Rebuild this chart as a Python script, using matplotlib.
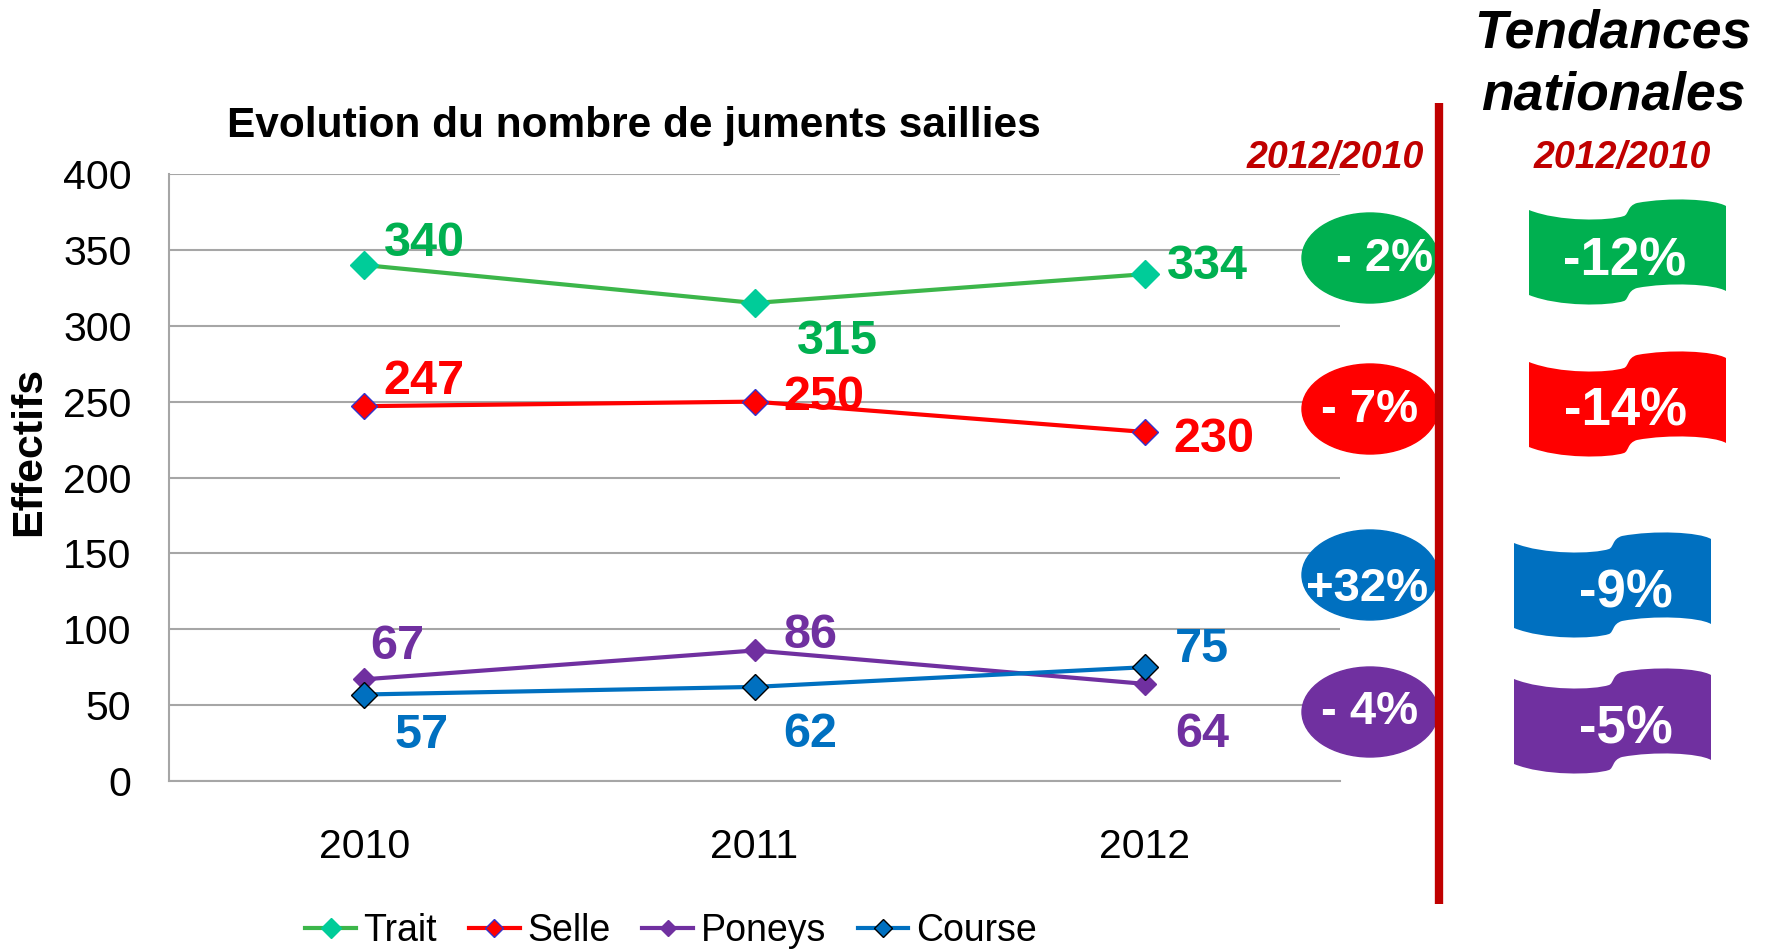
import matplotlib
matplotlib.use("Agg")
import matplotlib.pyplot as plt
from matplotlib.patches import Ellipse, PathPatch
from matplotlib.path import Path
import numpy as np

plt.rcParams['font.family'] = ['Liberation Sans', 'DejaVu Sans']

# ---------------- data ----------------
years = ['2010', '2011', '2012']
series_names = ['Trait', 'Selle', 'Poneys', 'Course']
trait = [340, 315, 334]
selle = [247, 250, 230]
poneys = [67, 86, 64]
course = [57, 62, 75]
local_change = ['- 2%', '- 7%', '+32%', '- 4%']
national_change = ['-12%', '-14%', '-9%', '-5%']
yticks = [0, 50, 100, 150, 200, 250, 300, 350, 400]
title = 'Evolution du nombre de juments saillies'
ylabel = 'Effectifs'
period = '2012/2010'
side_title = ['Tendances', 'nationales']

# ---------------- styles ----------------
W, H = 1766, 950
line_colors = ['#3CB64A', '#FF0000', '#7030A0', '#0070C0']
marker_face = ['#00CC99', '#FF0000', '#7030A0', '#0070C0']
marker_edge = ['#00CC99', '#3333CC', '#7030A0', '#000000']
marker_size = [14, 13, 11, 13]
label_colors = ['#00B050', '#FF0000', '#7030A0', '#0070C0']
badge_colors = ['#00B050', '#FF0000', '#0070C0', '#7030A0']
dark_red = '#C00000'
grid_col = '#A6A6A6'

# label offsets (px right, px down) per series per year
offsets = [
    [(60, -22), (83, 39), (63, -8)],
    [(60, -25), (69, -4), (69, 8)],
    [(33, -33), (56, -15), (57, 51)],
    [(57, 41), (56, 48), (57, -18)],
]

fig = plt.figure(figsize=(W / 100, H / 100), dpi=100)

def px_rect(x0, y0, x1, y1):
    return [x0 / W, 1 - y1 / H, (x1 - x0) / W, (y1 - y0) / H]

ax = fig.add_axes(px_rect(169, 174, 1340, 781))
x = np.arange(len(years))
all_series = [trait, selle, poneys, course]
for i, (name, vals) in enumerate(zip(series_names, all_series)):
    ax.plot(x, vals, color=line_colors[i], lw=3, marker='D',
            ms=marker_size[i], mfc=marker_face[i], mec=marker_edge[i],
            mew=1.0, label=name, zorder=3 + i)
    for j, v in enumerate(vals):
        dx, dy = offsets[i][j]
        ax.annotate(str(v), (x[j], v), xytext=(dx * 0.72, -dy * 0.72),
                    textcoords='offset points', ha='center', va='center',
                    fontsize=35, fontweight='bold', color=label_colors[i],
                    zorder=10)

ax.set_xlim(-0.5, 2.5)
ax.set_ylim(0, 400)
ax.set_yticks(yticks)
ax.set_xticks(x)
ax.set_xticklabels(years)
ax.tick_params(axis='both', length=0, labelsize=29.5)
ax.tick_params(axis='y', pad=27)
ax.tick_params(axis='x', pad=34)
ax.yaxis.grid(True, color=grid_col, lw=1.5)
ax.set_axisbelow(True)
for s in ['top', 'right']:
    ax.spines[s].set_visible(False)
for s in ['left', 'bottom']:
    ax.spines[s].set_color(grid_col)
    ax.spines[s].set_linewidth(1.5)

leg = fig.legend(loc='center', bbox_to_anchor=(671 / W, 1 - 931 / H), ncol=4,
                 frameon=False, fontsize=27, handlelength=1.35,
                 handletextpad=0.2, columnspacing=0.85, markerscale=0.7)

# ---------------- overlay in pixel coords ----------------
ov = fig.add_axes([0, 0, 1, 1], zorder=5)
ov.set_xlim(0, W)
ov.set_ylim(H, 0)
ov.axis('off')
ov.patch.set_alpha(0)

fig.text(634 / W, 1 - 126 / H, title, ha='center', va='center',
         fontsize=30.5, fontweight='bold')
fig.text(29 / W, 1 - 451 / H, ylabel, ha='center', va='center',
         rotation=90, fontsize=31, fontweight='bold')

# vertical separator
ov.plot([1439, 1439], [103, 904], color=dark_red, lw=6, solid_capstyle='butt', zorder=6)

ov.text(1335, 158, period, ha='center', va='center', fontsize=27,
        fontweight='bold', style='italic', color=dark_red)
ov.text(1622, 158, period, ha='center', va='center', fontsize=27,
        fontweight='bold', style='italic', color=dark_red)
ov.text(1613, 48, side_title[0], ha='center', va='baseline', fontsize=38.5,
        fontweight='bold', style='italic')
ov.text(1613, 110, side_title[1], ha='center', va='baseline', fontsize=38.5,
        fontweight='bold', style='italic')

ell_centers = [(1370, 258), (1370, 409), (1370, 575), (1370, 712)]
ell_text = [(1385, 259), (1370, 410), (1367, 589), (1370, 712)]
for k in range(4):
    ov.add_patch(Ellipse(ell_centers[k], 136, 90, color=badge_colors[k], zorder=3))
    ov.text(*ell_text[k], local_change[k], ha='center', va='center',
            fontsize=34, fontweight='bold', color='white', zorder=4)

def flag_path(x0, y0, fh=85):
    verts = [
        (0, 0),
        (30, 12), (80, 11), (95, 6),
        (100, 4), (98, -4), (108, -7),
        (140, -13), (185, -11), (197, -4),
        (197, -4 + fh),
        (185, -11 + fh), (140, -13 + fh), (108, -7 + fh),
        (98, -4 + fh), (100, 4 + fh), (95, 6 + fh),
        (80, 11 + fh), (30, 12 + fh), (0, fh),
        (0, 0),
    ]
    codes = [Path.MOVETO] + [Path.CURVE4] * 9 + [Path.LINETO] + [Path.CURVE4] * 9 + [Path.CLOSEPOLY]
    verts = [(x0 + a, y0 + b) for a, b in verts]
    return Path(verts, codes)

flag_origin = [(1529, 210), (1529, 362), (1514, 543), (1514, 679)]
flag_text = [(1625, 261), (1625, 412), (1626, 593), (1626, 730)]
for k in range(4):
    ov.add_patch(PathPatch(flag_path(*flag_origin[k]), facecolor=badge_colors[k],
                           edgecolor='none', zorder=3))
    ov.text(*flag_text[k], national_change[k], ha='center', va='center',
            fontsize=38, fontweight='bold', color='white', zorder=4)

fig.savefig('out.png', dpi=100)
